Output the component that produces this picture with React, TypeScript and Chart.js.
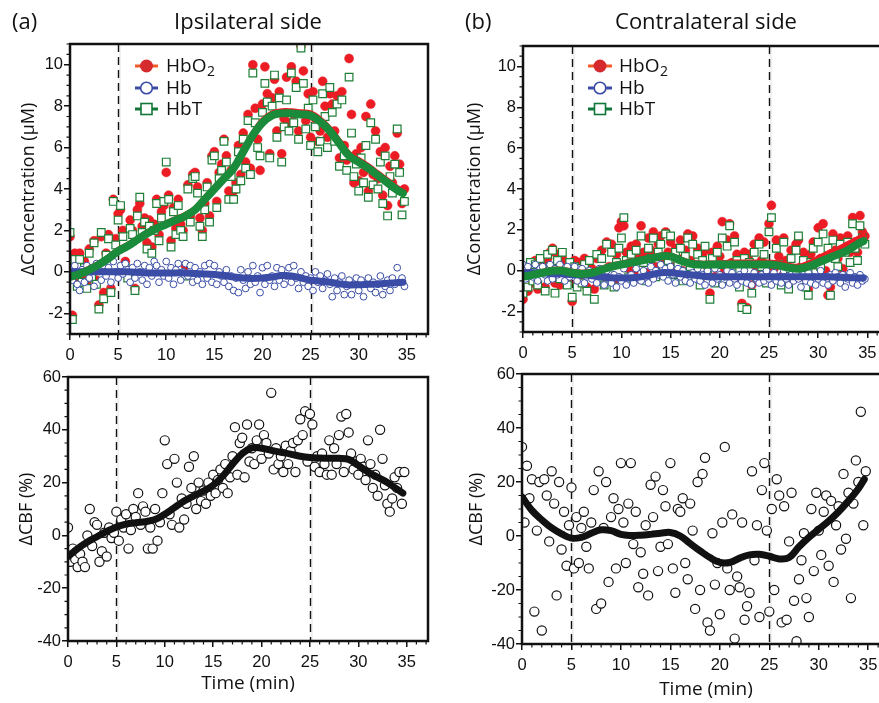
import React, { useEffect, useRef } from "react";
import { Chart, registerables } from "chart.js";

Chart.register(...registerables);

// ---------------- data ----------------
const SAMPLE_STEP_MIN = 0.25;
const X_TICKS = [0, 5, 10, 15, 20, 25, 30, 35];
const CONC_TICKS = [-2, 0, 2, 4, 6, 8, 10];
const CBF_TICKS = [-40, -20, 0, 20, 40, 60];
const STIM_MARKS = [5, 25];
const FIT_TIME = [0, 1, 2, 3, 4, 5, 6, 7, 8, 9, 10, 11, 12, 13, 14, 15, 16, 17, 18, 19, 20, 21, 22, 23, 24, 25, 26, 27, 28, 29, 30, 31, 32, 33, 34, 34.6];

// (a) ipsilateral, haemoglobin (µM)
const A_HBO2 = [
  1.7, -2.1, 0.9, -0.5, 0.9, -0.3, 0.5, -0.6, 1.1, -0.1, 1.5, -0.4, -1.6, 1.7, -1.0, 0.9,
  1.8, -0.8, 3.5, 1.6, 2.8, 3.0, 2.0, 0.5, -0.2, 2.5, 2.0, -0.8, 3.0, 3.3, 2.2, 2.6,
  1.4, 2.5, 1.2, 2.3, 3.5, 1.8, 2.9, 3.2, 4.8, 3.7, 1.5, 3.1, 2.1, 3.5, 2.3, 2.0,
  0.3, 4.2, 2.7, 4.7, 4.8, 4.1, 2.6, 2.0, 3.3, 4.3, 2.7, 5.6, 5.8, 3.4, 4.8, 5.2,
  6.4, 5.6, 3.9, 4.9, 3.9, 4.3, 6.1, 4.7, 6.7, 5.3, 7.6, 5.0, 10.0, 7.9, 6.4, 4.9,
  8.1, 9.9, 8.6, 5.7, 8.4, 9.3, 6.8, 8.7, 5.7, 7.4, 9.4, 7.2, 9.9, 7.6, 9.2, 6.8,
  10.9, 9.7, 7.3, 8.6, 6.5, 8.7, 7.4, 6.3, 6.8, 9.2, 8.0, 6.5, 8.6, 8.1, 6.8, 8.5,
  5.5, 8.7, 6.1, 5.4, 10.3, 7.6, 4.3, 5.7, 4.4, 6.0, 4.8, 7.5, 3.9, 8.1, 4.7, 6.8,
  4.5, 5.8, 3.7, 6.0, 3.2, 5.1, 4.3, 5.6, 6.7, 5.2, 3.3, 4.0,
];
const A_HB = [
  0.2, -0.4, 0.3, -0.6, -0.9, 0.1, -0.5, 0.3, -0.3, 0.2, -0.7, 0.4, 0.1, -0.4, 0.3, -0.2,
  0.2, -0.5, 0.5, 0.0, -0.3, 0.3, -0.1, 0.4, 0.1, -0.5, 0.2, -0.3, 0.4, 0.0, -0.4, 0.3,
  -0.6, 0.2, -0.2, 0.5, 0.3, -0.5, 0.1, -0.2, 0.5, -0.3, 0.2, -0.6, 0.1, 0.4, -0.4, 0.0,
  0.4, -0.2, 0.3, -0.5, 0.2, -0.4, 0.0, -0.6, 0.3, -0.3, 0.4, -0.5, 0.3, -0.6, 0.0, -0.2,
  -0.5, 0.1, -0.7, -0.2, -0.9, -0.3, -1.0, 0.1, -0.4, -0.8, 0.0, -0.6, 0.3, -0.5, -0.2, -1.0,
  0.2, -0.6, 0.3, -0.4, -0.2, -0.7, 0.2, -0.4, 0.1, -0.6, -0.2, 0.2, -0.5, 0.3, -0.3, -0.8,
  0.0, -0.5, -0.2, -0.7, -0.3, -0.9, 0.0, -0.5, -0.2, -0.8, -0.4, -0.1, -0.6, -1.2, -0.3, -0.9,
  -0.5, -0.2, -1.1, -0.7, -0.4, -1.1, -0.6, -0.3, -0.9, -0.4, -1.2, -0.6, -0.3, -0.8, -0.5, -1.0,
  -0.6, -0.2, -1.1, -0.7, -0.4, -0.9, -0.3, -0.6, 0.2, -0.5, -0.3, -0.7,
];
const A_HBT = [
  1.9, -2.3, 0.6, -0.7, 0.6, -0.5, 0.2, -0.8, 0.9, -0.3, 1.4, -0.6, -1.8, 1.9, -1.3, 0.8,
  1.6, -1.0, 3.4, 1.3, 2.5, 3.2, 1.7, 0.2, -0.3, 2.1, 1.8, -0.9, 2.7, 3.6, 1.9, 2.4,
  1.1, 2.2, 0.9, 2.0, 3.3, 1.5, 2.6, 3.4, 5.3, 3.5, 1.2, 2.9, 1.8, 3.2, 2.0, 1.7,
  -0.2, 4.0, 2.4, 4.5, 4.6, 3.8, 2.2, 1.7, 3.0, 4.1, 2.4, 5.4, 5.6, 3.1, 4.5, 4.9,
  6.3, 5.3, 3.5, 4.6, 3.5, 4.0, 5.8, 4.4, 6.4, 5.0, 7.3, 4.7, 9.6, 7.2, 6.0, 5.6,
  7.7, 9.1, 8.2, 5.5, 8.0, 9.5, 6.5, 8.4, 5.3, 7.0, 8.3, 6.8, 9.6, 7.2, 8.9, 6.4,
  10.8, 9.1, 6.9, 7.9, 6.1, 8.3, 7.0, 5.8, 6.3, 8.6, 7.5, 6.0, 8.9, 7.7, 6.3, 8.1,
  5.1, 8.3, 5.6, 4.9, 9.4, 6.7, 4.6, 5.2, 3.9, 5.5, 4.3, 6.1, 3.6, 7.2, 4.2, 6.4,
  4.0, 5.3, 3.3, 5.6, 2.7, 4.6, 3.8, 5.2, 6.9, 4.8, 2.75, 3.4,
];
const A_HBO2_FIT = [-0.2, -0.05, 0.15, 0.4, 0.7, 1.05, 1.3, 1.6, 1.9, 2.15, 2.35, 2.55, 2.75, 3.05, 3.55, 4.05, 4.55, 5.05, 5.85, 6.65, 7.3, 7.65, 7.75, 7.75, 7.7, 7.65, 7.35, 6.9, 6.3, 5.7, 5.4, 5.1, 4.75, 4.4, 4.05, 3.9];
const A_HB_FIT = [0.0, 0.0, 0.0, 0.0, 0.0, 0.0, 0.0, -0.02, -0.05, -0.05, -0.05, -0.05, -0.05, -0.08, -0.1, -0.13, -0.18, -0.25, -0.3, -0.32, -0.3, -0.25, -0.18, -0.2, -0.3, -0.4, -0.45, -0.5, -0.58, -0.63, -0.62, -0.6, -0.58, -0.55, -0.52, -0.5];
const A_HBT_FIT = [-0.25, -0.1, 0.1, 0.35, 0.65, 1.0, 1.25, 1.55, 1.85, 2.1, 2.3, 2.5, 2.7, 3.0, 3.5, 4.0, 4.5, 5.0, 5.8, 6.6, 7.2, 7.55, 7.65, 7.65, 7.6, 7.55, 7.25, 6.8, 6.2, 5.6, 5.3, 5.0, 4.65, 4.3, 3.95, 3.8];

// (b) contralateral, haemoglobin (µM)
const B_HBO2 = [
  -1.4, 0.0, -1.0, 0.3, -0.6, 0.5, -0.9, 0.4, 0.3, -0.8, 0.6, 0.9, 1.1, -0.6, 0.8, -0.7,
  0.6, 0.3, -0.5, 0.2, -1.5, 0.5, -0.6, 0.4, -0.4, 0.6, -0.8, 0.3, 0.1, -0.9, 0.6, -0.3,
  1.0, -0.4, 1.4, 0.2, 1.3, -0.5, 0.8, 2.1, 2.4, 2.2, 0.9, 0.1, 1.2, -0.1, 1.3, 0.6,
  2.2, 0.9, -0.1, 1.6, 1.0, 1.9, 0.2, 1.3, 1.7, 0.6, 1.9, 0.9, 1.4, 0.2, 1.1, 0.6,
  1.5, 0.0, 1.0, 1.8, 0.5, 1.7, 0.1, 1.1, -0.4, 0.8, 1.0, 0.2, -1.1, 0.9, -0.3, 1.2,
  0.7, 2.4, 0.0, 1.5, 2.3, 0.4, 1.7, 0.8, -0.5, -1.6, 0.9, -1.8, 0.8, -0.7, 1.3, 0.1,
  1.6, 0.5, 1.4, -0.2, 2.3, 3.2, 0.1, 1.5, 0.7, -0.3, 1.6, 0.5, -0.6, 1.0, 0.1, 1.3,
  1.5, 0.2, 0.9, -0.4, -0.9, 0.8, 1.4, 0.3, 2.1, 0.6, 2.3, 0.0, -1.2, -0.8, 1.8, 1.0,
  0.6, 1.6, 0.1, 1.3, 1.7, 0.9, 2.6, 1.4, 0.9, 2.7, 1.9, 1.7,
];
const B_HB = [
  0.3, -0.4, 0.2, -0.1, -0.3, 0.3, -0.5, 0.1, 0.2, -0.2, -0.5, 0.3, -0.4, 0.1, -0.2, 0.3,
  0.0, -0.5, 0.2, -0.3, -0.1, 0.2, -0.5, -0.2, 0.1, -0.6, -0.3, 0.0, -0.4, -0.1, -0.6, 0.1,
  -0.3, -0.7, 0.0, -0.4, -0.6, -0.2, -0.8, -0.3, -0.5, 0.1, -0.7, -0.3, -0.2, -0.6, 0.1, -0.4,
  -0.5, 0.0, -0.3, -0.6, 0.2, -0.4, 0.0, -0.2, 0.3, -0.3, 0.1, -0.5, 0.2, -0.2, -0.6, 0.1,
  -0.3, 0.0, -0.5, -0.2, -0.6, -0.1, -0.4, 0.1, -0.5, -0.2, -0.7, 0.0, -0.3, -0.6, 0.1, -0.4,
  -0.2, -0.7, -0.3, 0.0, -0.6, -0.1, -0.4, -0.7, -0.2, -0.5, 0.0, -0.6, -0.3, -0.7, -0.1, -0.4,
  -0.6, -0.2, -0.5, 0.0, -0.4, -0.7, -0.1, -0.5, -0.3, -0.6, 0.0, -0.4, -0.7, -0.2, -0.5, -0.1,
  -0.4, -0.8, -0.2, -0.5, -0.1, -0.6, -0.3, -0.7, -0.4, 0.0, -0.6, -0.3, -0.7, -0.2, -0.5, -0.1,
  -0.3, -0.6, -0.2, -0.8, -0.4, -0.1, -0.6, -0.3, -0.7, -0.2, -0.5, -0.4,
];
const B_HBT = [
  -1.1, 0.2, -0.8, 0.4, -0.5, 0.3, -0.7, 0.6, 0.1, -1.0, 0.8, 0.2, 1.0, -1.1, 0.5, -0.4,
  0.9, 0.1, -0.7, 0.4, -1.3, 0.2, -0.8, 0.1, -0.6, 0.3, -1.0, 0.5, -0.2, -1.4, 0.8, -0.5,
  0.6, -0.7, 1.3, -0.2, 0.9, -0.8, 0.4, 1.1, 1.6, 2.6, 0.5, -0.3, 0.8, -0.4, 1.0, 0.2,
  1.7, 0.4, -0.5, 1.1, 0.6, 1.6, -0.3, 0.9, 1.3, 0.2, 1.8, 0.5, 1.7, -0.2, 0.9, 0.3,
  1.1, -0.5, 0.7, 1.6, 0.2, 1.3, -0.3, 0.8, -0.7, 0.5, 1.2, -0.2, -1.4, 0.6, -0.6, 0.9,
  0.3, 1.6, -0.4, 1.2, 2.2, -0.1, 1.4, 0.5, -0.8, -1.8, 0.6, -1.9, 0.4, -1.1, 0.9, -0.3,
  1.3, 0.2, 0.8, -0.6, 1.9, 2.6, -0.4, 1.1, 0.3, -0.7, 1.4, 0.1, -0.9, 0.6, -0.3, 1.0,
  1.7, -0.2, 0.5, -0.8, -1.2, 0.4, 1.1, -0.1, 1.4, 0.2, 1.8, -0.4, 1.1, -1.2, 1.5, 0.6,
  0.2, 1.3, -0.3, 0.9, 1.4, 0.4, 2.3, 1.1, 0.5, 2.2, 1.6, 1.3,
];
const B_HBO2_FIT = [-0.25, -0.15, -0.05, 0.05, 0.05, -0.05, -0.1, -0.05, 0.1, 0.25, 0.35, 0.45, 0.55, 0.65, 0.75, 0.75, 0.55, 0.4, 0.35, 0.35, 0.35, 0.4, 0.4, 0.4, 0.4, 0.4, 0.35, 0.25, 0.2, 0.35, 0.6, 0.85, 1.05, 1.3, 1.55, 1.7];
const B_HB_FIT = [-0.1, -0.1, -0.1, -0.15, -0.15, -0.2, -0.2, -0.25, -0.3, -0.35, -0.35, -0.35, -0.3, -0.2, -0.1, -0.1, -0.15, -0.2, -0.25, -0.3, -0.3, -0.3, -0.3, -0.3, -0.3, -0.3, -0.3, -0.3, -0.3, -0.3, -0.3, -0.3, -0.32, -0.33, -0.35, -0.35];
const B_HBT_FIT = [-0.3, -0.2, -0.1, 0.0, 0.0, -0.1, -0.15, -0.1, 0.05, 0.2, 0.3, 0.4, 0.5, 0.6, 0.7, 0.7, 0.5, 0.35, 0.3, 0.3, 0.3, 0.3, 0.3, 0.3, 0.3, 0.3, 0.25, 0.15, 0.1, 0.2, 0.4, 0.6, 0.8, 1.0, 1.3, 1.45];

// cerebral blood flow (%)
const A_CBF = [
  3, -10, -5, -9, -12, -7, -10, -12, 0, 10, -4, 5, 4, -10, -6, 1,
  -8, 3, -1, 1, 9, -2, 6, 3, 8, -5, 2, 10, 7, 16, 4, 11,
  9, -5, 3, -5, 10, -2, 5, 16, 36, 27, 8, 4, 29, 20, 3, 14,
  6, 12, 26, 18, 30, 10, 20, 13, 17, 12, 20, 15, 23, 16, 21, 25,
  18, 27, 16, 22, 30, 41, 23, 35, 37, 22, 42, 28, 33, 27, 36, 42,
  29, 38, 35, 31, 54, 25, 33, 27, 30, 24, 34, 27, 32, 35, 24, 36,
  44, 38, 47, 28, 46, 42, 26, 30, 24, 31, 27, 23, 36, 23, 33, 27,
  38, 45, 24, 46, 39, 31, 25, 28, 23, 29, 26, 21, 36, 27, 18, 23,
  15, 40, 29, 19, 12, 9, 14, 22, 18, 24, 12, 24,
];
const B_CBF = [
  33, 5, 26, 14, 21, -28, 2, 20, -35, 21, 15, -2, 24, 12, -22, 20,
  -5, 9, -11, 4, 18, -12, 7, -10, 3, 9, -4, -12, 5, 17, -27, 24,
  -25, 3, 20, -17, 7, 14, -12, 10, 27, 5, -10, 12, 27, -3, 9, -19,
  -6, -14, 4, -22, 19, 7, 22, -13, -4, 17, 11, -3, 27, -12, -21, 10,
  9, 14, -10, -16, 12, 2, -27, 20, -20, 23, 29, -32, -35, 1, -18, -10,
  -29, 5, 33, -12, -20, 8, -38, -15, -19, 5, -31, -26, -21, 24, -9, 4,
  -30, 17, 27, 2, -28, 10, -20, 21, 15, -32, 11, -31, -2, 16, -24, -39,
  -16, -9, 1, -23, -30, 10, -13, 16, 2, -7, 9, 15, -11, 13, -17, 4,
  11, -5, 23, -1, 16, -23, 12, 28, 20, 46, 4, 24,
];
const A_CBF_FIT = [-8, -5, -2.5, -0.5, 1.5, 3.2, 4.3, 4.8, 5.2, 6.0, 8.0, 10.5, 13, 15, 16.8, 19, 22.5, 27, 31, 33.2, 33, 32.2, 31.5, 30.8, 30, 29.5, 29.3, 29.2, 29.2, 28.8, 26.5, 24, 22, 20, 17.5, 16];
const B_CBF_FIT = [14.5, 9.5, 6, 3, 0.8, -0.8, -0.5, 1, 2.3, 2, 0.6, 0.2, 0.3, 0.6, 1, 1.3, 0, -2.8, -5.5, -8, -9.8, -9.8, -8.2, -7, -6.8, -7.5, -8.5, -8, -4, -0.5, 2.5, 5.5, 9, 13, 17.5, 21];

// ---------------- styles ----------------
const CANVAS_W = 900;
const CANVAS_H = 703;
const RED = "#ec1c24";
const BLUE = "#3a4ca6";
const GREEN = "#1a8a3b";
const GREEN_MARK = "#1f7f36";
const TICK_FONT = { family: "'Liberation Sans', Arial, sans-serif", size: 16.5 };
const TITLE_FAMILY = "'Open Sans', 'Noto Sans', sans-serif";

const pts = (vals: number[]) => vals.map((y, i) => ({ x: i * SAMPLE_STEP_MIN, y }));
const fitPts = (vals: number[]) => vals.map((y, i) => ({ x: FIT_TIME[i], y }));

function scatterSet(vals: number[], style: any, order: number) {
  return { data: pts(vals), showLine: false, order, ...style };
}
function fitSet(vals: number[], color: string, width: number, order: number) {
  return {
    data: fitPts(vals),
    showLine: true,
    borderColor: color,
    borderWidth: width,
    pointRadius: 0,
    tension: 0.4,
    borderCapStyle: "round",
    borderJoinStyle: "round",
    order,
  };
}

const RED_PT = { pointStyle: "circle", pointRadius: 4.5, backgroundColor: RED, borderColor: RED, borderWidth: 0.5 };
const GREEN_PT = { pointStyle: "rect", pointRadius: 5.4, backgroundColor: "#ffffff", borderColor: GREEN_MARK, borderWidth: 1.2 };
const BLUE_PT = { pointStyle: "circle", pointRadius: 3.4, backgroundColor: "#ffffff", borderColor: BLUE, borderWidth: 1 };
const CBF_PT = { pointStyle: "circle", pointRadius: 4.6, backgroundColor: "#ffffff", borderColor: "#111111", borderWidth: 1.2 };

function hbSets(hbo2: number[], hb: number[], hbt: number[], fo2: number[], fhb: number[], fhbt: number[]) {
  return [
    fitSet(fhbt, GREEN, 8, 1),
    fitSet(fhb, BLUE, 7, 2),
    fitSet(fo2, RED, 6, 3),
    scatterSet(hb, BLUE_PT, 4),
    scatterSet(hbt, GREEN_PT, 5),
    scatterSet(hbo2, RED_PT, 6),
  ];
}
function cbfSets(vals: number[], fit: number[]) {
  return [fitSet(fit, "#111111", 7, 1), scatterSet(vals, CBF_PT, 2)];
}

type Panel = {
  area: { left: number; top: number; right: number; bottom: number };
  axisLeft: number;
  xMax: number;
  yMin: number;
  yMax: number;
  yTicks: number[];
  yMinor: number;
  yTitle: string;
  yTitlePad: number;
  xTitle?: string;
  xTitlePad?: number;
  xAxisH: number;
  datasets: any[];
  legend?: { lineX0: number; lineX1: number; textX: number; ys: number[] };
};

const PANELS: Panel[] = [
  {
    area: { left: 70, top: 44, right: 428, bottom: 334 },
    axisLeft: 0, xMax: 37.2, yMin: -3, yMax: 11, yTicks: CONC_TICKS, yMinor: 0.5,
    yTitle: "\u0394Concentration (\u03BCM)", yTitlePad: 18, xAxisH: 34,
    datasets: hbSets(A_HBO2, A_HB, A_HBT, A_HBO2_FIT, A_HB_FIT, A_HBT_FIT),
    legend: { lineX0: 135, lineX1: 158, textX: 166, ys: [66, 88, 109] },
  },
  {
    area: { left: 523, top: 46, right: 889, bottom: 332 },
    axisLeft: 440, xMax: 37.2, yMin: -3, yMax: 11, yTicks: CONC_TICKS, yMinor: 0.5,
    yTitle: "\u0394Concentration (\u03BCM)", yTitlePad: 24, xAxisH: 34,
    datasets: hbSets(B_HBO2, B_HB, B_HBT, B_HBO2_FIT, B_HB_FIT, B_HBT_FIT),
    legend: { lineX0: 588, lineX1: 612, textX: 619, ys: [66, 88, 109] },
  },
  {
    area: { left: 68, top: 377, right: 428, bottom: 641 },
    axisLeft: 0, xMax: 37.2, yMin: -40, yMax: 60, yTicks: CBF_TICKS, yMinor: 5,
    yTitle: "\u0394CBF (%)", yTitlePad: 16, xTitle: "Time (min)", xTitlePad: 4.5, xAxisH: 58,
    datasets: cbfSets(A_CBF, A_CBF_FIT),
  },
  {
    area: { left: 522, top: 374, right: 890, bottom: 644 },
    axisLeft: 440, xMax: 37.2, yMin: -40, yMax: 60, yTicks: CBF_TICKS, yMinor: 5,
    yTitle: "\u0394CBF (%)", yTitlePad: 26, xTitle: "Time (min)", xTitlePad: 1.5, xAxisH: 58,
    datasets: cbfSets(B_CBF, B_CBF_FIT),
  },
];

function decorPlugin(p: Panel) {
  return {
    id: "panelDecor",
    beforeDatasetsDraw(chart: any) {
      const { ctx, chartArea } = chart;
      const xs = chart.scales.x;
      ctx.save();
      for (const m of STIM_MARKS) {
        const px = Math.round(xs.getPixelForValue(m)) + 0.5;
        ctx.setLineDash([]);
        ctx.strokeStyle = "rgba(0,0,0,0.12)";
        ctx.lineWidth = 1;
        ctx.beginPath();
        ctx.moveTo(px + 1.5, chartArea.top);
        ctx.lineTo(px + 1.5, chartArea.bottom);
        ctx.stroke();
        ctx.setLineDash([8, 5]);
        ctx.strokeStyle = "#111";
        ctx.lineWidth = 1.4;
        ctx.beginPath();
        ctx.moveTo(px, chartArea.top);
        ctx.lineTo(px, chartArea.bottom);
        ctx.stroke();
      }
      ctx.restore();
    },
    afterDraw(chart: any) {
      const { ctx, chartArea } = chart;
      const xs = chart.scales.x;
      const ys = chart.scales.y;
      ctx.save();
      ctx.setLineDash([]);
      // minor ticks
      ctx.strokeStyle = "#111";
      ctx.lineWidth = 1.2;
      ctx.beginPath();
      for (let v = 0; v <= p.xMax + 1e-9; v += 1) {
        if (X_TICKS.includes(v)) continue;
        const px = xs.getPixelForValue(v);
        ctx.moveTo(px, chartArea.bottom);
        ctx.lineTo(px, chartArea.bottom + 3.5);
      }
      const n = Math.round((p.yMax - p.yMin) / p.yMinor);
      for (let i = 0; i <= n; i++) {
        const v = p.yMin + i * p.yMinor;
        if (p.yTicks.some((t) => Math.abs(t - v) < 1e-9)) continue;
        const py = ys.getPixelForValue(v);
        ctx.moveTo(chartArea.left, py);
        ctx.lineTo(chartArea.left - 3.5, py);
      }
      ctx.stroke();
      // frame
      ctx.lineWidth = 2.5;
      ctx.strokeStyle = "#111";
      ctx.strokeRect(chartArea.left, chartArea.top, chartArea.right - chartArea.left, chartArea.bottom - chartArea.top);
      // legend
      if (p.legend) {
        const L = p.legend;
        const mx = (L.lineX0 + L.lineX1) / 2;
        const entries = [
          { text: "HbO", sub: "2", line: "#f15a29", kind: "fill", color: "#d52b2f" },
          { text: "Hb", sub: "", line: BLUE, kind: "circle", color: BLUE },
          { text: "HbT", sub: "", line: "#13773a", kind: "square", color: "#13773a" },
        ];
        entries.forEach((e, i) => {
          const y = L.ys[i];
          ctx.strokeStyle = e.line;
          ctx.lineWidth = 3;
          ctx.beginPath();
          ctx.moveTo(L.lineX0, y);
          ctx.lineTo(L.lineX1, y);
          ctx.stroke();
          ctx.lineWidth = 1.6;
          if (e.kind === "fill") {
            ctx.fillStyle = e.color;
            ctx.beginPath();
            ctx.arc(mx, y, 6.5, 0, Math.PI * 2);
            ctx.fill();
          } else if (e.kind === "circle") {
            ctx.fillStyle = "#fff";
            ctx.strokeStyle = e.color;
            ctx.beginPath();
            ctx.arc(mx, y, 5.8, 0, Math.PI * 2);
            ctx.fill();
            ctx.stroke();
          } else {
            ctx.fillStyle = "#fff";
            ctx.strokeStyle = e.color;
            ctx.fillRect(mx - 5.5, y - 5.5, 11, 11);
            ctx.strokeRect(mx - 5.5, y - 5.5, 11, 11);
          }
          ctx.fillStyle = "#111";
          ctx.textBaseline = "middle";
          ctx.textAlign = "left";
          ctx.font = `19px ${TITLE_FAMILY}`;
          ctx.fillText(e.text, L.textX, y + 1);
          if (e.sub) {
            const w = ctx.measureText(e.text).width;
            ctx.font = `14px ${TITLE_FAMILY}`;
            ctx.fillText(e.sub, L.textX + w + 0.5, y + 6);
          }
        });
      }
      ctx.restore();
    },
  };
}

function PanelChart({ panel }: { panel: Panel }) {
  const ref = useRef<HTMLCanvasElement | null>(null);
  useEffect(() => {
    if (!ref.current) return;
    const p = panel;
    const yAxisW = p.area.left - p.axisLeft;
    const chart = new Chart(ref.current, {
      type: "scatter",
      data: { datasets: p.datasets },
      options: {
        responsive: false,
        animation: false,
        events: [],
        layout: {
          padding: {
            left: p.axisLeft,
            top: p.area.top,
            right: CANVAS_W - p.area.right,
            bottom: CANVAS_H - p.area.bottom - p.xAxisH,
          },
        },
        plugins: { legend: { display: false }, tooltip: { enabled: false }, title: { display: false } },
        scales: {
          x: {
            type: "linear",
            min: 0,
            max: p.xMax,
            afterBuildTicks: (s: any) => {
              s.ticks = X_TICKS.map((v) => ({ value: v }));
            },
            afterFit: (s: any) => {
              s.height = p.xAxisH;
            },
            border: { display: false },
            grid: { display: true, drawOnChartArea: false, drawTicks: true, tickLength: 6, color: "#111", lineWidth: 1.5 },
            ticks: { font: TICK_FONT, color: "#111", padding: 6, maxRotation: 0, autoSkip: false, callback: (v: any) => String(v) },
            title: p.xTitle
              ? { display: true, text: p.xTitle, color: "#111", font: { family: TITLE_FAMILY, size: 19 }, padding: { top: 0, bottom: p.xTitlePad } }
              : { display: false },
          },
          y: {
            type: "linear",
            min: p.yMin,
            max: p.yMax,
            afterBuildTicks: (s: any) => {
              s.ticks = p.yTicks.map((v) => ({ value: v }));
            },
            afterFit: (s: any) => {
              s.width = yAxisW;
            },
            border: { display: false },
            grid: { display: true, drawOnChartArea: false, drawTicks: true, tickLength: 6, color: "#111", lineWidth: 1.5 },
            ticks: { font: TICK_FONT, color: "#111", padding: 1, autoSkip: false, callback: (v: any) => String(v) },
            title: { display: true, text: p.yTitle, color: "#111", font: { family: TITLE_FAMILY, size: 18 }, padding: { top: p.yTitlePad, bottom: 0 } },
          },
        },
      } as any,
      plugins: [decorPlugin(p)],
    });
    return () => chart.destroy();
  }, [panel]);
  return (
    <canvas
      ref={ref}
      width={CANVAS_W}
      height={CANVAS_H}
      style={{ position: "absolute", left: 0, top: 0, width: CANVAS_W, height: CANVAS_H }}
    />
  );
}

const labelStyle: React.CSSProperties = {
  position: "absolute",
  fontFamily: TITLE_FAMILY,
  fontSize: 22,
  lineHeight: "22px",
  color: "#111",
  whiteSpace: "nowrap",
};

export default function App() {
  return (
    <div style={{ position: "fixed", left: 0, top: 0, width: 879, height: 703, overflow: "hidden", background: "#fff" }}>
      {PANELS.map((p, i) => (
        <PanelChart key={i} panel={p} />
      ))}
      <div style={{ ...labelStyle, left: 12, top: 9 }}>(a)</div>
      <div style={{ ...labelStyle, left: 248, top: 9, transform: "translateX(-50%)" }}>Ipsilateral side</div>
      <div style={{ ...labelStyle, left: 465, top: 9 }}>(b)</div>
      <div style={{ ...labelStyle, left: 706, top: 9, transform: "translateX(-50%)" }}>Contralateral side</div>
    </div>
  );
}
